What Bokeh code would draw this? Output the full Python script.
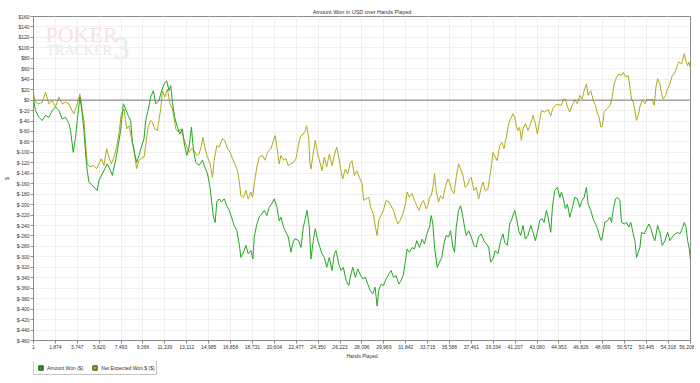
from bokeh.plotting import figure
from bokeh.layouts import column
from bokeh.models import (FixedTicker, PrintfTickFormatter, NumeralTickFormatter, Span,
                          Legend, LegendItem, Range1d, Label)
from bokeh.embed import file_html
from bokeh.resources import INLINE

# ---------------- data ----------------
title_text = "Amount Won in USD over Hands Played"
x_label = "Hands Played"
y_label = "$"
series_names = ["Amount Won ($)", "Net Expected Won $ ($)"]

x_tick_values = [1, 1874, 3747, 5620, 7493, 9366, 11239, 13112, 14985, 16858, 18731,
                 20604, 22477, 24350, 26223, 28096, 29969, 31842, 33715, 35588, 37461,
                 39334, 41207, 43080, 44953, 46826, 48699, 50572, 52445, 54318, 56208]
y_tick_values = list(range(-460, 161, 20))

won_hands = [1, 172, 457, 743, 1029, 1314, 1600, 1886, 2171, 2457, 2743, 3029, 3171, 3400, 3600,
             3743, 3971, 4171, 4314, 4457, 4600, 4743, 5028, 5314, 5457, 5600, 5743, 6028, 6314, 6600,
             6743, 7028, 7228, 7457, 7685, 7885, 8085, 8314, 8457, 8657, 8828, 9028, 9228, 9457, 9600,
             9799, 10028, 10257, 10457, 10742,
             10884, 11170, 11398, 11598, 11741, 11884, 12084, 12313, 12512, 12741, 12884, 13112, 13312,
             13512, 13684, 13884, 14170, 14455, 14655, 14884, 15112, 15227, 15398, 15541, 15684, 15884,
             16084, 16312, 16541, 16741, 16941, 17169, 17398, 17598, 17741, 17969, 18169, 18369, 18598,
             18769, 18884, 19112, 19312, 19512, 19741, 19969, 20169, 20369, 20598, 20826, 21026, 21169,
             21398, 21598, 21798, 22026, 22169, 22369,
             22682, 22882, 23082, 23253, 23396, 23596, 23739, 23939, 24110, 24310, 24510, 24681, 24881,
             25081, 25310, 25539, 25739, 25881, 26110, 26310, 26510, 26739, 26967, 27167, 27310, 27538,
             27738, 27938, 28167, 28396, 28596, 28796, 29024, 29224, 29396, 29538, 29738, 29938, 30167,
             30395, 30595, 30795, 31024, 31253, 31453, 31653, 31824, 31966, 32167, 32395, 32595, 32795,
             33024, 33252, 33452, 33652, 33881, 34024, 34167, 34310,
             34537, 34737, 34937, 35109, 35309, 35509, 35680, 35880, 36023, 36166, 36366, 36537, 36737,
             36880, 37023, 37223, 37451, 37680, 37880, 38080, 38309, 38537, 38737, 38937, 39108, 39308,
             39508, 39737, 39966, 40166, 40308, 40537, 40737, 40937, 41166, 41308, 41508, 41680, 41880,
             42080, 42308, 42537, 42737, 42937, 43108, 43308, 43508, 43680, 43880, 44023, 44251, 44394,
             44594, 44823, 45023,
             45164, 45307, 45507, 45678, 45878, 46078, 46307, 46535, 46735, 46935, 47107, 47307, 47450,
             47678, 47878, 48021, 48250, 48450, 48592, 48735, 48878, 49107, 49307, 49450, 49592, 49792,
             49964, 50164, 50307, 50535, 50735, 50935, 51107, 51307, 51449, 51592, 51735, 51878, 52021,
             52250, 52450, 52649, 52821, 53021, 53164, 53392, 53592, 53792, 54021, 54249, 54449, 54649,
             54878, 55107, 55307, 55507, 55678, 55821, 55964, 56107, 56208]
won_values = [2, -20, -33, -39, -29, -33, -20, -13, -20, -36, -33, -45, -58, -100, -71,
              -39, 6, -26, -58, -103, -135, -157, -163, -170, -173, -154, -147, -135, -122, -135,
              -144, -115, -90, -58, -7, -17, -29, -39, -80, -103, -119, -106, -90, -74, -39,
              -20, 6, 18, -7, -1,
              12, 31, 37, 18, 28, -4, -33, -52, -65, -55, -81, -106, -90,
              -52, -96, -119, -125, -115, -128, -141, -167, -192, -224, -234, -195, -189,
              -195, -189, -202, -211, -224, -240, -250, -275, -301, -291, -278, -294, -288,
              -304, -262, -237, -224, -218, -211, -221, -205, -199, -189, -205, -231, -224,
              -243, -253, -262, -291, -275, -265,
              -269, -282, -243, -227, -211, -243, -304, -269, -246, -269, -282, -294, -301,
              -320, -301, -326, -294, -288, -313, -326, -320, -345, -355, -333, -320, -339,
              -323, -333, -342, -339, -352, -364, -371, -358, -394, -364, -352, -355, -342,
              -333, -326, -339, -336, -352, -345, -333, -307, -285, -291, -282, -285, -269,
              -282, -266, -275, -256, -243, -221, -237, -282,
              -320, -310, -301, -275, -259, -262, -250, -281, -291, -243, -211, -202, -224,
              -243, -259, -250, -262, -278, -281, -262, -256, -269, -275, -281, -310, -304,
              -288, -294, -269, -256, -272, -278, -237, -227, -211, -224, -250, -259, -240,
              -266, -259, -240, -253, -269, -253, -230, -227, -234, -211, -224, -253, -205,
              -173, -167, -186,
              -176, -186, -208, -199, -224, -208, -186, -189, -205, -192, -186, -167, -199,
              -211, -227, -234, -246, -262, -269, -253, -234, -231, -224, -234, -211, -189,
              -186, -192, -234, -237, -234, -243, -234, -256, -269, -301, -291, -282, -253,
              -256, -246, -237, -246, -262, -269, -240, -253, -278, -269, -253, -269, -262,
              -256, -253, -256, -246, -234, -243, -269, -285, -307]

exp_hands = [1, 172, 457, 743, 1029, 1314, 1600, 1886, 2171, 2457, 2743, 3029, 3229, 3457, 3743,
             3971, 4171, 4314, 4457, 4600, 4828, 5114, 5400, 5600, 5800, 6028, 6257, 6457, 6657, 6885,
             7114, 7314, 7514, 7743, 7971, 8171, 8371, 8600, 8828, 9028, 9228, 9457, 9600, 9799, 10028,
             10171, 10371, 10600,
             10884, 11027, 11227, 11455, 11684, 11884, 12027, 12170, 12370, 12598, 12827, 13027, 13312,
             13512, 13741, 13970, 14170, 14370, 14484, 14655, 14884, 15112, 15312, 15455, 15684, 15884,
             16169, 16369, 16598, 16826, 17026, 17227, 17455, 17598, 17741, 17969, 18169, 18369, 18598,
             18741, 18884, 19112, 19312, 19598, 19798, 20026, 20312, 20541, 20684, 20826, 21026, 21169,
             21398, 21598, 21798, 22026, 22255, 22455,
             22682, 22882, 23082, 23253, 23367, 23539, 23653, 23739, 23882, 24110, 24310, 24510, 24681,
             24881, 25081, 25310, 25539, 25739, 25939, 26110, 26310, 26453, 26681, 26881, 27081, 27253,
             27453, 27653, 27881, 28110, 28253, 28453, 28681, 28881, 29081, 29253, 29396, 29538, 29738,
             29938, 30167, 30395, 30595, 30795, 30967, 31167, 31367, 31595, 31824, 31966, 32167, 32395,
             32595, 32795, 32967, 33167, 33367, 33595, 33738, 33881, 34024, 34167, 34310,
             34452, 34652, 34823, 35023, 35223, 35452, 35594, 35794, 35966, 36166, 36366, 36537, 36737,
             36937, 37109, 37309, 37451, 37680, 37880, 38080, 38309, 38451, 38651, 38880, 39023, 39166,
             39308, 39508, 39680, 39880, 40080, 40251, 40451, 40651, 40823, 41023, 41166, 41308, 41451,
             41594, 41737, 41880, 42080, 42308, 42537, 42737, 42937, 43108, 43308, 43451, 43737, 44023,
             44251, 44451, 44750,
             45164, 45307, 45507, 45678, 45878, 46078, 46307, 46535, 46735, 46935, 47107, 47307, 47450,
             47678, 47878, 48078, 48250, 48392, 48535, 48678, 48821, 49021, 49221, 49392, 49507, 49678,
             49878, 50078, 50307, 50450, 50650, 50878, 51021, 51164, 51307, 51449, 51592, 51735, 51878,
             52078, 52307, 52535, 52735, 52935, 53106, 53249, 53392, 53592, 53735, 53878, 54078, 54249,
             54449, 54649, 54821, 55021, 55221, 55450, 55678, 55792, 55964, 56078, 56208]
exp_values = [12, -4, -7, -4, 15, -7, -1, -13, 6, -7, -4, -7, -17, -26, -7,
              12, -20, -39, -83, -122, -128, -125, -131, -122, -112, -125, -93, -109, -122, -109,
              -90, -64, -26, -17, -55, -49, -71, -96, -131, -115, -112, -109, -87, -52, -39,
              -42, -55, -58,
              -17, 18, 6, 21, -7, -17, -33, -55, -61, -55, -71, -84, -100,
              -93, -96, -106, -103, -87, -71, -90, -109, -122, -148, -115, -87, -90,
              -74, -77, -93, -100, -112, -122, -135, -154, -183, -186, -173, -189, -176,
              -186, -160, -128, -109, -106, -115, -100, -93, -77, -68, -90, -122, -106,
              -115, -112, -125, -122, -119, -112,
              -84, -68, -65, -58, -49, -71, -122, -132, -109, -77, -103, -119, -135,
              -109, -128, -103, -125, -106, -90, -109, -135, -151, -132, -141, -122, -116,
              -144, -135, -148, -160, -192, -189, -186, -208, -218, -243, -259, -230, -221,
              -211, -192, -195, -202, -211, -224, -237, -230, -218, -199, -176, -186, -179,
              -192, -202, -211, -199, -192, -208, -202, -186, -183, -167, -141,
              -173, -195, -183, -189, -167, -151, -157, -173, -179, -148, -122, -132, -144,
              -167, -163, -151, -148, -173, -167, -189, -167, -157, -173, -170, -148, -128,
              -100, -109, -116, -87, -81, -93, -71, -45, -36, -26, -33, -49, -58,
              -52, -77, -55, -45, -58, -45, -29, -45, -65, -39, -20, -23, -18,
              -30, -15, -8,
              -10, 1, 2, -13, -23, -10, 1, -7, 9, 2, 18, 31, 9,
              18, 0, -10, -26, -33, -52, -49, -23, -17, -13, -7, 6, 31,
              44, 50, 47, 53, 44, 47, 25, 2, -4, -20, -39, -29, -13,
              0, -7, 2, 0, 2, -10, 25, 41, 31, 12, 2, 9, 22,
              31, 47, 50, 63, 73, 69, 89, 76, 66, 73, 60]

# ---------------- style ----------------
FONT = "Liberation Sans"
SERIF = "Liberation Serif"
GREEN = "#22a622"
OLIVE = "#b1a91c"
AXIS = "#8a8a8a"
GRID = "#efefef"
TXT = "#333333"

p = figure(frame_width=657, frame_height=324, output_backend="svg", toolbar_location=None,
           x_range=Range1d(x_tick_values[0], x_tick_values[-1]),
           y_range=Range1d(y_tick_values[0], y_tick_values[-1]),
           title=title_text,
           min_border_left=0, min_border_right=4, min_border_top=16, min_border_bottom=0)

p.background_fill_color = "white"
p.border_fill_color = "white"
p.outline_line_color = AXIS
p.outline_line_width = 1

p.title.text_font = FONT
p.title.text_font_size = "5.5px"
p.title.text_font_style = "normal"
p.title.text_color = TXT
p.title.align = "center"
p.title.standoff = 4
p.title.offset = 0

# watermark
p.add_layout(Label(x=12, y=294, x_units="screen", y_units="screen", text="POKER",
                   text_font=SERIF, text_font_size="22px",
                   text_color="#f4e2e2", level="underlay"))
p.add_layout(Label(x=13, y=283, x_units="screen", y_units="screen", text="TRACKER",
                   text_font=SERIF, text_font_size="14px",
                   text_color="#e9e9e9", level="underlay"))
p.add_layout(Label(x=80, y=282, x_units="screen", y_units="screen", text="3",
                   text_font=SERIF, text_font_size="32px",
                   text_color="#e3eee3", level="underlay"))

p.add_layout(Span(location=0, dimension="width", line_color="#7a7a7a", line_width=1))

p.line(exp_hands, exp_values, line_color=OLIVE, line_width=1)
p.line(won_hands, won_values, line_color=GREEN, line_width=1)

# axes
for ax in (p.xaxis[0], p.yaxis[0]):
    ax.axis_line_color = AXIS
    ax.major_tick_line_color = AXIS
    ax.minor_tick_line_color = None
    ax.major_tick_in = 0
    ax.major_tick_out = 3
    ax.major_label_text_font = FONT
    ax.major_label_text_font_size = "5px"
    ax.major_label_text_color = TXT
    ax.axis_label_text_font = FONT
    ax.axis_label_text_font_size = "5px"
    ax.axis_label_text_font_style = "normal"
    ax.axis_label_text_color = TXT
    ax.major_label_standoff = 1
    ax.axis_label_standoff = 1

p.yaxis.axis_label_standoff = 4

p.xaxis.ticker = FixedTicker(ticks=x_tick_values)
p.xaxis.formatter = NumeralTickFormatter(format="0,0")
p.xaxis.axis_label = x_label
p.yaxis.ticker = FixedTicker(ticks=y_tick_values)
p.yaxis.formatter = PrintfTickFormatter(format="$%d")
p.yaxis.axis_label = y_label

p.xgrid.grid_line_color = GRID
p.ygrid.grid_line_color = GRID

# ---------------- legend strip below the chart ----------------
leg = figure(width=200, height=14, output_backend="svg", toolbar_location=None,
             x_axis_location=None, y_axis_location=None,
             min_border_left=0, min_border_right=0, min_border_top=0, min_border_bottom=0)
leg.outline_line_color = None
leg.background_fill_color = "white"
leg.border_fill_color = "white"
leg.xgrid.visible = False
leg.ygrid.visible = False

nan = float("nan")
sw_won = leg.scatter(x=[nan], y=[nan], marker="square", size=5,
                     fill_color=GREEN, line_color="#1c4a1c")
sw_exp = leg.scatter(x=[nan], y=[nan], marker="square", size=5,
                     fill_color=OLIVE, line_color="#4a4510")
legend = Legend(items=[LegendItem(label=series_names[0], renderers=[sw_won]),
                       LegendItem(label=series_names[1], renderers=[sw_exp])],
                orientation="horizontal", location=(0, 0))
legend.label_text_font = FONT
legend.label_text_font_size = "5px"
legend.label_text_color = TXT
legend.label_height = 9
legend.label_standoff = 1
legend.glyph_width = 11
legend.glyph_height = 11
legend.spacing = 6
legend.padding = 1
legend.margin = 0
legend.border_line_color = AXIS
legend.border_line_width = 1
legend.background_fill_color = "white"
leg.add_layout(legend)

layout = column(p, leg, spacing=0)

open("out.html", "w").write(file_html(layout, INLINE))
